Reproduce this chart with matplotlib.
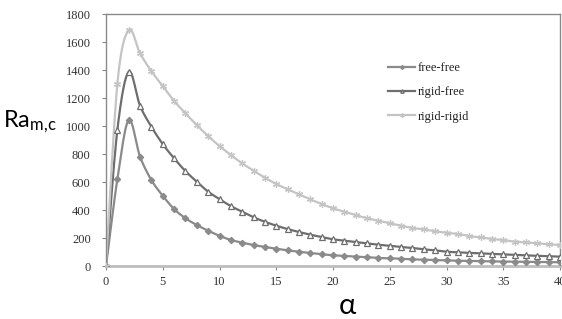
import numpy as np
import matplotlib
matplotlib.use("Agg")
import matplotlib.pyplot as plt

alpha = list(range(0, 41))
free_free = [0, 621, 1045, 783, 616, 504, 409, 343, 295, 254, 218,
             188, 169, 152, 138, 126, 114, 104, 95, 86, 79,
             74, 69, 64, 59, 57, 54, 50, 47, 45, 42,
             40, 38, 37, 35, 34, 33, 32, 31, 30, 29]
rigid_free = [0, 973, 1390, 1147, 997, 873, 771, 680, 604, 533, 480,
              430, 390, 350, 318, 290, 266, 245, 226, 209, 193,
              183, 174, 164, 154, 147, 138, 131, 121, 114, 104,
              100, 96, 92, 89, 85, 82, 78, 75, 72, 69]
rigid_rigid = [0, 1302, 1687, 1521, 1394, 1287, 1182, 1092, 1009, 930, 859,
               795, 735, 683, 633, 588, 550, 514, 478, 445, 414,
               390, 366, 343, 326, 307, 290, 273, 264, 250, 240,
               231, 216, 207, 195, 188, 176, 171, 164, 157, 152]
labels = ["free-free", "rigid-free", "rigid-rigid"]
xticks = list(range(0, 41, 5))
yticks = list(range(0, 1801, 200))


def smooth(x, y, n=12):
    x = np.asarray(x, float)
    y = np.asarray(y, float)
    px = np.concatenate([[x[0]], x, [x[-1]]])
    py = np.concatenate([[y[0]], y, [y[-1]]])
    xs, ys = [], []
    t = np.linspace(0, 1, n, endpoint=False)
    for i in range(1, len(px) - 2):
        p0, p1, p2, p3 = (np.array([px[j], py[j]]) for j in (i - 1, i, i + 1, i + 2))
        c1 = p1 + (p2 - p0) / 6.0
        c2 = p2 - (p3 - p1) / 6.0
        b = ((1 - t) ** 3)[:, None] * p1 + (3 * (1 - t) ** 2 * t)[:, None] * c1 \
            + (3 * (1 - t) * t ** 2)[:, None] * c2 + (t ** 3)[:, None] * p2
        xs.extend(b[:, 0])
        ys.extend(b[:, 1])
    xs.append(x[-1])
    ys.append(y[-1])
    return xs, ys


fig = plt.figure(figsize=(5.62, 3.19), dpi=100)
ax = fig.add_axes([106 / 562, 1 - 266.3 / 319, 454 / 562, 252 / 319])

series = [
    (free_free, "#8a8a8a", "D", "#8a8a8a", 3.2),
    (rigid_free, "#6e6e6e", "^", "white", 4.0),
    (rigid_rigid, "#c4c4c4", (6, 2, 0), "#c4c4c4", 5.0),
]
for (vals, col, mk, fc, ms), lab in zip(series, labels):
    sx, sy = smooth(alpha, vals)
    ax.plot(sx, sy, color=col, lw=1.6, zorder=2)
    ax.plot(alpha, vals, linestyle="none", marker=mk, markersize=ms,
            markerfacecolor=fc, markeredgecolor=col, markeredgewidth=0.9, zorder=3)
    ax.plot([], [], color=col, lw=1.6, marker=mk, markersize=ms * 0.6,
            markerfacecolor=fc, markeredgecolor=col, label=lab)

ax.set_xlim(0, 40)
ax.set_ylim(0, 1800)
ax.set_xticks(xticks)
ax.set_yticks(yticks)
serif = ["Liberation Serif", "DejaVu Serif"]
for lbl in ax.get_xticklabels() + ax.get_yticklabels():
    lbl.set_fontfamily(serif)
    lbl.set_fontsize(9)
    lbl.set_color("#333333")
ax.tick_params(direction="out", length=3, width=0.8, color="#888888")
ax.tick_params(axis="y", pad=8)
ax.tick_params(axis="x", pad=4)
for side in ["top", "right", "left"]:
    ax.spines[side].set_color("#8a8a8a")
    ax.spines[side].set_linewidth(1.0)
ax.spines["bottom"].set_color("#bdbdbd")
ax.spines["bottom"].set_linewidth(2.0)

leg = ax.legend(loc="upper left", bbox_to_anchor=(0.61, 0.83), frameon=False,
                prop={"family": serif, "size": 9}, handlelength=2.2,
                handletextpad=0.15, labelspacing=0.98, borderaxespad=0)
for t in leg.get_texts():
    t.set_color("#222222")

fig.text(3 / 562, 1 - 122 / 319, r"$\mathregular{Ra_{m{,}c}}$", fontsize=17,
         family=["Lato", "DejaVu Sans"], ha="left", va="center", color="black")
fig.text(347 / 562, 1 - 306 / 319, "α", fontsize=21,
         family=["Lato", "DejaVu Sans"], ha="center", va="center", color="black")

fig.savefig("out.png", dpi=100)
